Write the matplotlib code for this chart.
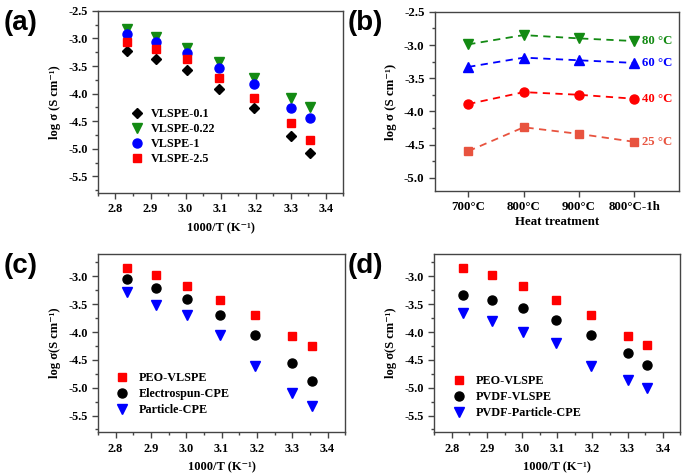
import matplotlib
matplotlib.use("Agg")
import matplotlib.pyplot as plt
from matplotlib.ticker import MultipleLocator, AutoMinorLocator, FormatStrFormatter

# ---------------- data ----------------
inv_T = [2.833, 2.915, 3.003, 3.096, 3.195, 3.300, 3.356]

# panel (a)
vlspe_01 = [-3.22, -3.38, -3.57, -3.92, -4.26, -4.77, -5.08]
vlspe_022 = [-2.83, -2.97, -3.18, -3.42, -3.71, -4.08, -4.25]
vlspe_1 = [-2.92, -3.06, -3.26, -3.53, -3.82, -4.26, -4.45]
vlspe_25 = [-3.06, -3.19, -3.37, -3.72, -4.08, -4.53, -4.84]

# panel (b)
heat_labels = ["700°C", "800°C", "900°C", "800°C-1h"]
b_80 = [-2.99, -2.85, -2.90, -2.94]
b_60 = [-3.33, -3.19, -3.23, -3.27]
b_40 = [-3.89, -3.71, -3.75, -3.81]
b_25 = [-4.60, -4.24, -4.34, -4.46]

# panel (c)
c_peo = [-2.85, -2.98, -3.18, -3.43, -3.70, -4.07, -4.25]
c_elec = [-3.05, -3.21, -3.41, -3.70, -4.05, -4.56, -4.88]
c_part = [-3.28, -3.51, -3.69, -4.06, -4.61, -5.10, -5.33]

# panel (d)
d_peo = [-2.85, -2.98, -3.18, -3.42, -3.70, -4.07, -4.24]
d_pvdf = [-3.33, -3.42, -3.57, -3.79, -4.05, -4.37, -4.60]
d_part = [-3.66, -3.81, -4.00, -4.20, -4.61, -4.86, -5.01]

# ---------------- style ----------------
SERIF = ["Liberation Serif", "DejaVu Serif"]
plt.rcParams["font.family"] = SERIF
plt.rcParams["font.weight"] = "bold"
plt.rcParams["axes.labelweight"] = "bold"

GREEN = "#138a13"
BLUE = "#0000ff"
RED = "#ff0000"
SALMON = "#e8533f"
BLACK = "#000000"
SPINE = "#444444"

TICK_FS = 8.8
LABEL_FS = 9.0
LEG_FS = 8.7

fig = plt.figure(figsize=(6.85, 4.75), dpi=100)

def make_ax(rect, tick_fs=TICK_FS):
    ax = fig.add_axes(rect)
    for s in ax.spines.values():
        s.set_color(SPINE)
        s.set_linewidth(1.0)
    ax.tick_params(axis="both", which="both", direction="out", top=False, right=False,
                   colors=SPINE, labelcolor="black", labelsize=tick_fs)
    ax.tick_params(which="major", length=4, width=1)
    ax.tick_params(which="minor", length=2, width=1)
    return ax

def boldify(ax):
    for lbl in ax.get_xticklabels() + ax.get_yticklabels():
        lbl.set_fontweight("bold")

def temp_axes(ax, ylim, ylabel):
    ax.set_xlim(2.75, 3.45)
    ax.set_ylim(*ylim)
    ax.xaxis.set_major_locator(MultipleLocator(0.1))
    ax.xaxis.set_minor_locator(AutoMinorLocator(2))
    ax.yaxis.set_major_locator(MultipleLocator(0.5))
    ax.yaxis.set_minor_locator(AutoMinorLocator(2))
    ax.xaxis.set_major_formatter(FormatStrFormatter("%.1f"))
    ax.yaxis.set_major_formatter(FormatStrFormatter("%.1f"))
    ax.set_xlabel("1000/T (K⁻¹)", fontsize=LABEL_FS, fontweight="bold", labelpad=5)
    ax.set_ylabel(ylabel, fontsize=LABEL_FS, fontweight="bold", labelpad=5)
    boldify(ax)

def legend(ax, anchor, pad, spacing):
    ax.legend(loc="upper left", bbox_to_anchor=anchor, frameon=False,
              handlelength=1.0, handletextpad=pad, labelspacing=spacing, borderpad=0,
              borderaxespad=0,
              prop={"family": SERIF, "weight": "bold", "size": LEG_FS})

MS = 6.5

# ---- (a) ----
axa = make_ax([0.143, 0.594, 0.358, 0.383])
axa.plot(inv_T, vlspe_01, "D", color=BLACK, ms=5.5, ls="none", label="VLSPE-0.1")
axa.plot(inv_T, vlspe_022, "v", color=GREEN, ms=MS + 0.5, ls="none", label="VLSPE-0.22")
axa.plot(inv_T, vlspe_1, "o", color=BLUE, ms=MS, ls="none", label="VLSPE-1")
axa.plot(inv_T, vlspe_25, "s", color=RED, ms=MS - 0.5, ls="none", label="VLSPE-2.5")
temp_axes(axa, (-5.8, -2.5), "log σ (S cm⁻¹)")
legend(axa, (0.135, 0.467), 0.6, 0.25)

# ---- (b) ----
axb = make_ax([0.635, 0.598, 0.356, 0.377], tick_fs=9.3)
xb = list(range(len(heat_labels)))
axb.plot(xb, b_80, "--v", color=GREEN, ms=MS, lw=1.3, dashes=(4, 3))
axb.plot(xb, b_60, "--^", color=BLUE, ms=MS, lw=1.3, dashes=(4, 3))
axb.plot(xb, b_40, "--o", color=RED, ms=MS, lw=1.3, dashes=(4, 3))
axb.plot(xb, b_25, "--s", color=SALMON, ms=MS - 0.5, lw=1.3, dashes=(4, 3))
for vals, col, txt in [(b_80, GREEN, "80 °C"), (b_60, BLUE, "60 °C"),
                       (b_40, RED, "40 °C"), (b_25, SALMON, "25 °C")]:
    axb.text(xb[-1] + 0.14, vals[-1], txt, color=col, fontsize=9.2,
             fontweight="bold", va="center", ha="left")
axb.set_xlim(-0.6, 3.8)
axb.set_ylim(-5.2, -2.5)
axb.set_xticks(xb)
axb.set_xticklabels(heat_labels)
axb.yaxis.set_major_locator(MultipleLocator(0.5))
axb.yaxis.set_minor_locator(AutoMinorLocator(2))
axb.yaxis.set_major_formatter(FormatStrFormatter("%.1f"))
axb.set_xlabel("Heat treatment", fontsize=9.3, fontweight="bold", labelpad=2)
axb.set_ylabel("log σ (S cm⁻¹)", fontsize=9.3, fontweight="bold", labelpad=5)
boldify(axb)

# ---- (c) ----
axc = make_ax([0.143, 0.09, 0.361, 0.375])
axc.plot(inv_T, c_peo, "s", color=RED, ms=MS - 0.5, ls="none", label="PEO-VLSPE")
axc.plot(inv_T, c_elec, "o", color=BLACK, ms=MS, ls="none", label="Electrospun-CPE")
axc.plot(inv_T, c_part, "v", color=BLUE, ms=MS + 0.5, ls="none", label="Particle-CPE")
temp_axes(axc, (-5.8, -2.6), "log σ(S cm⁻¹)")
legend(axc, (0.073, 0.337), 0.85, 0.33)

# ---- (d) ----
axd = make_ax([0.634, 0.09, 0.359, 0.375])
axd.plot(inv_T, d_peo, "s", color=RED, ms=MS - 0.5, ls="none", label="PEO-VLSPE")
axd.plot(inv_T, d_pvdf, "o", color=BLACK, ms=MS, ls="none", label="PVDF-VLSPE")
axd.plot(inv_T, d_part, "v", color=BLUE, ms=MS + 0.5, ls="none", label="PVDF-Particle-CPE")
temp_axes(axd, (-5.8, -2.6), "log σ(S cm⁻¹)")
legend(axd, (0.077, 0.32), 0.85, 0.33)

# panel labels
for txt, x, y in [("(a)", 0.006, 0.98), ("(b)", 0.508, 0.98),
                  ("(c)", 0.006, 0.468), ("(d)", 0.508, 0.468)]:
    fig.text(x, y, txt, fontsize=20, fontweight="bold",
             family=["Liberation Sans", "DejaVu Sans"], va="top", ha="left")

fig.savefig("out.png", dpi=100)
